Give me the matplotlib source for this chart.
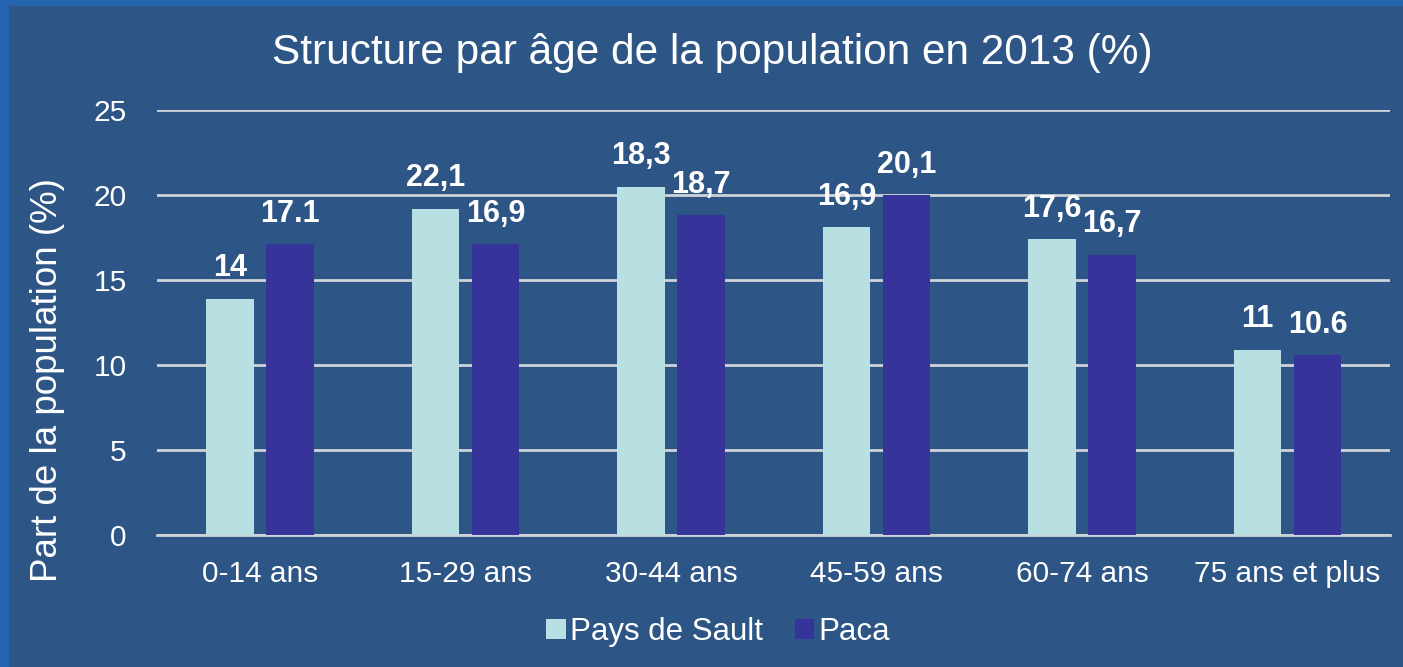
import numpy as np
import matplotlib.pyplot as plt
from matplotlib.patches import Rectangle

categories = ['0-14 ans', '15-29 ans', '30-44 ans', '45-59 ans', '60-74 ans', '75 ans et plus']
# bar heights as drawn in the reference
sault = [13.9, 19.2, 20.5, 18.1, 17.4, 10.9]
paca = [17.1, 17.1, 18.8, 20.0, 16.5, 10.6]
# data labels as printed in the reference
sault_labels = ['14', '22,1', '18,3', '16,9', '17,6', '11']
paca_labels = ['17.1', '16,9', '18,7', '20,1', '16,7', '10.6']

bg = '#2d5686'
light = '#b8e0e2'
dark = '#36349a'
font = ['Liberation Sans', 'DejaVu Sans']

fig = plt.figure(figsize=(14.03, 6.67), dpi=100, facecolor=bg)
# brighter blue strips on the top and left edges
fig.patches.append(Rectangle((0, 1 - 6 / 667), 1, 6 / 667, transform=fig.transFigure,
                             facecolor='#2463ad', edgecolor='none', zorder=0))
fig.patches.append(Rectangle((0, 0), 9 / 1403, 1, transform=fig.transFigure,
                             facecolor='#2463ad', edgecolor='none', zorder=0))
ax = fig.add_axes([0.112, 0.198, 0.879, 0.637])
ax.set_facecolor(bg)

x = np.arange(len(categories))
w = 0.23
off = 0.146
ax.bar(x - off, sault, w, color=light, label='Pays de Sault', zorder=3)
ax.bar(x + off, paca, w, color=dark, label='Paca', zorder=3)

for i in range(len(categories)):
    ax.annotate(sault_labels[i], (x[i] - off, sault[i]), xytext=(0, 11), textcoords='offset points',
                ha='center', va='bottom', color='white', fontsize=22, fontweight='bold', family=font)
    ax.annotate(paca_labels[i], (x[i] + off, paca[i]), xytext=(0, 11), textcoords='offset points',
                ha='center', va='bottom', color='white', fontsize=22, fontweight='bold', family=font)

ax.set_xlim(-0.5, len(categories) - 0.5)
ax.set_ylim(0, 25)
ax.set_yticks([0, 5, 10, 15, 20, 25])
ax.set_xticks(x)
ax.set_xticklabels(categories, family=font)
ax.tick_params(axis='both', length=0, colors='white', labelsize=21.5)
ax.tick_params(axis='x', pad=18)
ax.tick_params(axis='y', pad=22)
for lab in ax.get_yticklabels():
    lab.set_family(font)
ax.yaxis.grid(True, color='#cfd3d8', linewidth=2, zorder=0)
for s in ['top', 'right', 'left']:
    ax.spines[s].set_visible(False)
ax.spines['bottom'].set_color('#cfd3d8')
ax.spines['bottom'].set_linewidth(2)

fig.text(0.034, 0.43, 'Part de la population (%)', color='white', fontsize=26.5,
         rotation=90, ha='center', va='center', family=font)
fig.text(0.508, 0.921, 'Structure par âge de la population en 2013 (%)', color='white',
         fontsize=30.5, ha='center', va='center', family=font)

leg = ax.legend(loc='center', bbox_to_anchor=(0.455, -0.228), ncol=2, frameon=False,
                handlelength=0.62, handleheight=0.62, handletextpad=0.15, columnspacing=1.0,
                prop={'family': font, 'size': 22.5})
for t in leg.get_texts():
    t.set_color('white')

fig.savefig('out.png', dpi=100, facecolor=bg)
